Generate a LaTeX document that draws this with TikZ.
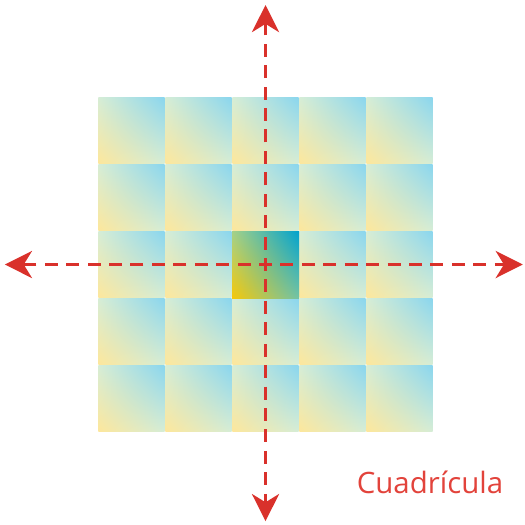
\documentclass[tikz,border=0pt]{standalone}
\usepackage{fontspec}
\setmainfont{Open Sans}
\usepackage{tikz}
\usetikzlibrary{arrows.meta,positioning,shadings}
\definecolor{cyel}{HTML}{FDE79C}
\definecolor{cblu}{HTML}{8AD6EE}
\definecolor{cmid}{HTML}{D6EDD6}
\definecolor{cyelc}{HTML}{F5C80A}
\definecolor{cbluc}{HTML}{00A2CE}
\definecolor{cmidul}{HTML}{A4D18A}
\definecolor{cmidlr}{HTML}{72C3A6}
\definecolor{cred}{HTML}{D9312B}
\definecolor{clbl}{HTML}{E2433B}
\tikzset{
  cell/.style={lower left=cyel, upper right=cblu, upper left=cmid, lower right=cmid},
  midcell/.style={shade, lower left=cyelc, upper right=cbluc, upper left=cmidul, lower right=cmidlr, minimum size=1cm, inner sep=0pt},
  axisarr/.style={-{Stealth[length=11.5pt, width=11.5pt, inset=3.5pt]}, draw=cred, line width=1.4pt, dash pattern=on 5.5pt off 3.6pt, dash phase=2.75pt},
  lbl/.style={font=\fontsize{12.5}{15}\selectfont, text=clbl},
}
\begin{document}
\begin{tikzpicture}[x=1cm,y=1cm]
\useasboundingbox (-3.963,-3.873) rectangle (3.873,3.948);
% grid of cells
\foreach \i in {-2,...,2} {
  \foreach \j in {-2,...,2} {
    \shade[cell] (\i-0.494,\j-0.494) rectangle (\i+0.494,\j+0.494);
  }
}
\node[midcell] (mid) at (0,0) {};
% axes
\coordinate (top) at (0,3.873);
\coordinate (bot) at (0,-3.83);
\coordinate (lft) at (-3.89,0);
\coordinate (rgt) at (3.84,0);
\draw[axisarr] (mid.center) -- (top);
\draw[axisarr] (mid.center) -- (bot);
\draw[axisarr] (mid.center) -- (lft);
\draw[axisarr] (mid.center) -- (rgt);
\node[lbl] (name) at (2.455,-3.246) {Cuadrícula};
\end{tikzpicture}
\end{document}
